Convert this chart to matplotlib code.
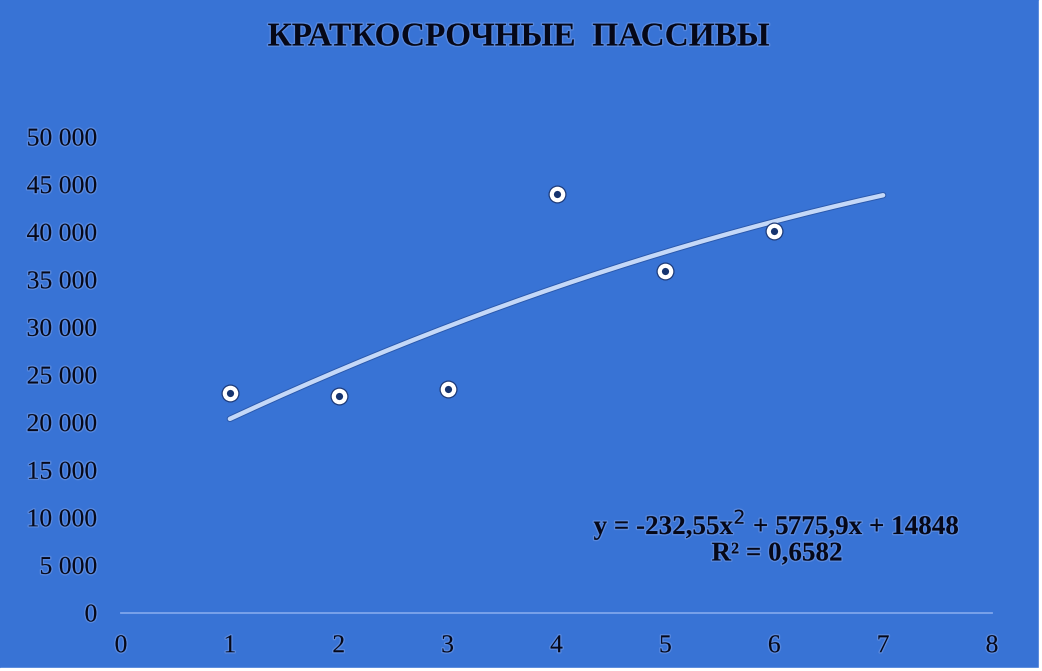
import numpy as np
import matplotlib
matplotlib.use("Agg")
import matplotlib.pyplot as plt
import matplotlib.patheffects as pe
from matplotlib.ticker import FuncFormatter

# Data
x_vals = [1, 2, 3, 4, 5, 6]
y_vals = [23100, 22800, 23500, 44000, 35900, 40100]
# Trend line coefficients (from the chart label)
coef_a, coef_b, coef_c = -232.55, 5775.9, 14848
r_squared = "0,6582"
title = "КРАТКОСРОЧНЫЕ  ПАССИВЫ"
x_ticks = [0, 1, 2, 3, 4, 5, 6, 7, 8]
y_ticks = [0, 5000, 10000, 15000, 20000, 25000, 30000, 35000, 40000, 45000, 50000]

BG = "#3873d5"
TXT = "#060818"
glow = [pe.withStroke(linewidth=2, foreground="#5f8de0", alpha=0.8)]

plt.rcParams['font.family'] = ['Liberation Serif', 'DejaVu Serif']

fig = plt.figure(figsize=(10.42, 6.71), dpi=100, facecolor=BG)
ax = fig.add_axes([121/1042, 58/671, (992-121)/1042, (613-137)/671])
ax.set_facecolor(BG)

# trend line
xt = np.linspace(1, 7, 200)
yt = coef_a * xt**2 + coef_b * xt + coef_c
ax.plot(xt, yt, color="#c4d8f8", lw=3.2, solid_capstyle='round', zorder=3,
        path_effects=[pe.Stroke(linewidth=4.6, foreground="#1d3f85", alpha=0.5), pe.Normal()])

# points
ax.plot(x_vals, y_vals, linestyle='none', marker='o', markersize=13,
        markerfacecolor="#1d3a78", markeredgecolor="#1d3a78", markeredgewidth=0, zorder=4, clip_on=False)
ax.plot(x_vals, y_vals, linestyle='none', marker='o', markersize=8.2,
        markerfacecolor="#16346f", markeredgecolor="white", markeredgewidth=3.0, zorder=5, clip_on=False)

ax.set_xlim(0, 8)
ax.set_ylim(0, 50000)
ax.set_xticks(x_ticks)
ax.set_yticks(y_ticks)
ax.yaxis.set_major_formatter(FuncFormatter(lambda v, p: f"{int(v):,}".replace(",", " ")))

for s in ['top', 'right', 'left']:
    ax.spines[s].set_visible(False)
ax.spines['bottom'].set_color("#7ea5ec")
ax.spines['bottom'].set_linewidth(1.3)

ax.tick_params(axis='both', length=0, labelsize=18.5, labelcolor=TXT)
ax.tick_params(axis='y', pad=17)
ax.tick_params(axis='x', pad=16)
for lab in ax.get_xticklabels() + ax.get_yticklabels():
    lab.set_path_effects(glow)

fig.text(519/1042, 1 - 37/671, title, ha='center', va='center', fontsize=24, fontweight='bold',
         color=TXT, path_effects=glow)

eq = f"y = {coef_a:.2f}".replace(".", ",") + "x$^{2}$ + " + f"{coef_b:.1f}".replace(".", ",") + f"x + {coef_c}"
fig.text(777/1042, 1 - 525/671, eq, ha='center', va='center', fontsize=19.5, fontweight='bold',
         color=TXT, path_effects=glow)
fig.text(777/1042, 1 - 554/671, f"R² = {r_squared}", ha='center', va='center', fontsize=19.5,
         fontweight='bold', color=TXT, path_effects=glow)

# white edge strips
fig.patches.append(plt.Rectangle((0, 0), 1, 3/671, transform=fig.transFigure, color='white', zorder=10))
fig.patches.append(plt.Rectangle((1 - 3/1042, 0), 3/1042, 1, transform=fig.transFigure, color='white', zorder=10))

fig.savefig("out.png", dpi=100, facecolor=BG)
